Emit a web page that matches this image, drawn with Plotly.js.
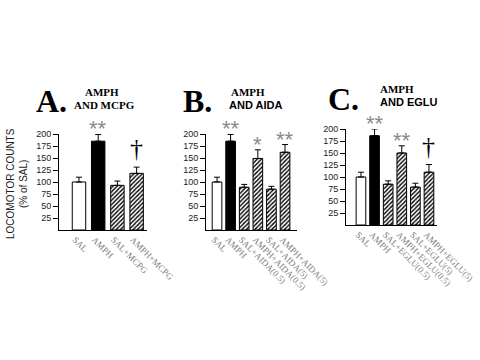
<!DOCTYPE html>
<html>
<head>
<meta charset="utf-8">
<script src="https://cdn.plot.ly/plotly-3.0.1.min.js"></script>
<style>html,body{margin:0;padding:0;background:#fff;}#chart{width:480px;height:360px;}</style>
</head>
<body>
<div id="chart"></div>
<script>
// Panel A: AMPH and MCPG
const catsA = ["SAL", "AMPH", "SAL+MCPG", "AMPH+MCPG"];
const valsA = [100, 185, 93, 118];
const errA = [10, 14, 9, 13];
const sigA = ["", "**", "", "†"];

// Panel B: AMPH and AIDA
const catsB = ["SAL", "AMPH", "SAL+AIDA(0.5)", "AMPH+AIDA(0.5)", "SAL+AIDA(5)", "AMPH+AIDA(5)"];
const valsB = [100, 185, 89, 149, 85, 162];
const errB = [10, 14, 6, 18, 6, 16];
const sigB = ["", "**", "", "*", "", "**"];

// Panel C: AMPH and EGLU
const catsC = ["SAL", "AMPH", "SAL+EGLU(0.5)", "AMPH+EGLU(0.5)", "SAL+EGLU(5)", "AMPH+EGLU(5)"];
const valsC = [100, 186, 85, 150, 79, 110];
const errC = [10, 14, 7, 15, 8, 16];
const sigC = ["", "**", "", "**", "", "†"];

const yTicks = [25, 50, 75, 100, 125, 150, 175, 200];

// style group of each bar: 0 = open (saline), 1 = solid (AMPH), 2 = hatched
function groupOf(i) { return i === 0 ? 0 : (i === 1 ? 1 : 2); }

function barTraces(cats, vals, errs, xa, ya, w) {
  const out = [];
  [0, 1, 2].forEach(g => {
    const idx = cats.map((c, i) => i).filter(i => groupOf(i) === g);
    const marker = {line: {color: "#000", width: 1}};
    if (g === 0) marker.color = "#ffffff";
    if (g === 1) marker.color = "#000000";
    if (g === 2) {
      marker.color = "#ffffff";
      marker.pattern = {shape: "/", bgcolor: "#ffffff", fgcolor: "#000000", size: 3, solidity: 0.45, fillmode: "replace"};
    }
    out.push({
      type: "bar",
      x: idx,
      y: idx.map(i => vals[i]),
      width: w,
      xaxis: xa, yaxis: ya,
      marker: marker,
      error_y: {type: "data", array: idx.map(i => errs[i]), arrayminus: idx.map(() => 0), symmetric: false,
                color: "#000", thickness: 1, width: 3},
      hoverinfo: "skip",
      showlegend: false
    });
  });
  return out;
}

const traces = [].concat(
  barTraces(catsA, valsA, errA, "x", "y", 0.7),
  barTraces(catsB, valsB, errB, "x2", "y2", 0.71),
  barTraces(catsC, valsC, errC, "x3", "y3", 0.71)
);

function xAxis(cats, dom, rng, anchor) {
  return {
    domain: dom, range: rng, anchor: anchor,
    tickmode: "array", tickvals: cats.map((c, i) => i - 0.2), ticktext: cats,
    tickangle: 45, ticks: "", showgrid: false, zeroline: false,
    showline: true, linecolor: "#000", linewidth: 1,
    tickfont: {family: "Liberation Serif", size: 9, color: "#808080"},
    fixedrange: true
  };
}
function yAxis(dom, anchor) {
  return {
    domain: dom, range: [0, 200], anchor: anchor,
    tickmode: "array", tickvals: yTicks,
    ticks: "outside", ticklen: 5, tickcolor: "#000", tickwidth: 1,
    showgrid: false, zeroline: false, showline: true, linecolor: "#000", linewidth: 1,
    tickfont: {family: "Liberation Sans", size: 9, color: "#222"},
    fixedrange: true
  };
}

const anns = [];
function sigAnns(sig, vals, errs, xr, yr) {
  sig.forEach((s, i) => {
    if (!s) return;
    const dagger = s === "†";
    anns.push({
      xref: xr, yref: yr, x: i, y: vals[i] + errs[i],
      text: s, showarrow: false, xanchor: "center", yanchor: "bottom",
      yshift: dagger ? 2 : -9,
      font: dagger ? {family: "Liberation Serif", size: 26, color: "#000000"} : {family: "Liberation Sans", size: 22, color: "#8a8a8a"}
    });
  });
}
sigAnns(sigA, valsA, errA, "x", "y");
sigAnns(sigB, valsB, errB, "x2", "y2");
sigAnns(sigC, valsC, errC, "x3", "y3");

function txt(x, y, text, font) {
  anns.push({xref: "paper", yref: "paper", x: x / 480, y: 1 - y / 360, text: text, showarrow: false,
    xanchor: "center", yanchor: "middle", font: font});
}
const letterFont = {family: "Liberation Serif", size: 32, color: "#000"};
const serifB = {family: "Liberation Serif", size: 11, color: "#000"};
const sansB = {family: "Liberation Sans", size: 11, color: "#000"};

txt(51, 101, "<b>A.</b>", letterFont);
txt(102, 92, "<b>AMPH</b>", serifB);
txt(104, 105, "<b>AND MCPG</b>", serifB);

txt(197, 101, "<b>B.</b>", letterFont);
txt(248, 92, "<b>AMPH</b>", serifB);
txt(255, 105, "<b>AND AIDA</b>", sansB);

txt(343, 99, "<b>C.</b>", letterFont);
txt(397, 89, "<b>AMPH</b>", serifB);
txt(409, 102, "<b>AND EGLU</b>", sansB);

anns.push({xref: "paper", yref: "paper", x: 17 / 480, y: 1 - 184 / 360,
  text: "LOCOMOTOR COUNTS<br>(% of SAL)", showarrow: false, textangle: -90,
  xanchor: "center", yanchor: "middle",
  font: {family: "Liberation Sans", size: 10, color: "#222"}});

const layout = {
  width: 480, height: 360,
  margin: {l: 0, r: 0, t: 0, b: 0},
  paper_bgcolor: "#fff", plot_bgcolor: "#fff",
  showlegend: false, bargap: 0, barmode: "overlay",
  xaxis: xAxis(catsA, [59 / 480, 147 / 480], [-1.04, 3.54], "y"),
  yaxis: yAxis([1 - 230 / 360, 1 - 134 / 360], "x"),
  xaxis2: xAxis(catsB, [206 / 480, 297 / 480], [-0.81, 5.88], "y2"),
  yaxis2: yAxis([1 - 230 / 360, 1 - 134 / 360], "x2"),
  xaxis3: xAxis(catsC, [346 / 480, 437 / 480], [-1.1, 5.59], "y3"),
  yaxis3: yAxis([1 - 225 / 360, 1 - 129 / 360], "x3"),
  annotations: anns
};

Plotly.newPlot("chart", traces, layout, {displayModeBar: false, staticPlot: true});
</script>
</body>
</html>
